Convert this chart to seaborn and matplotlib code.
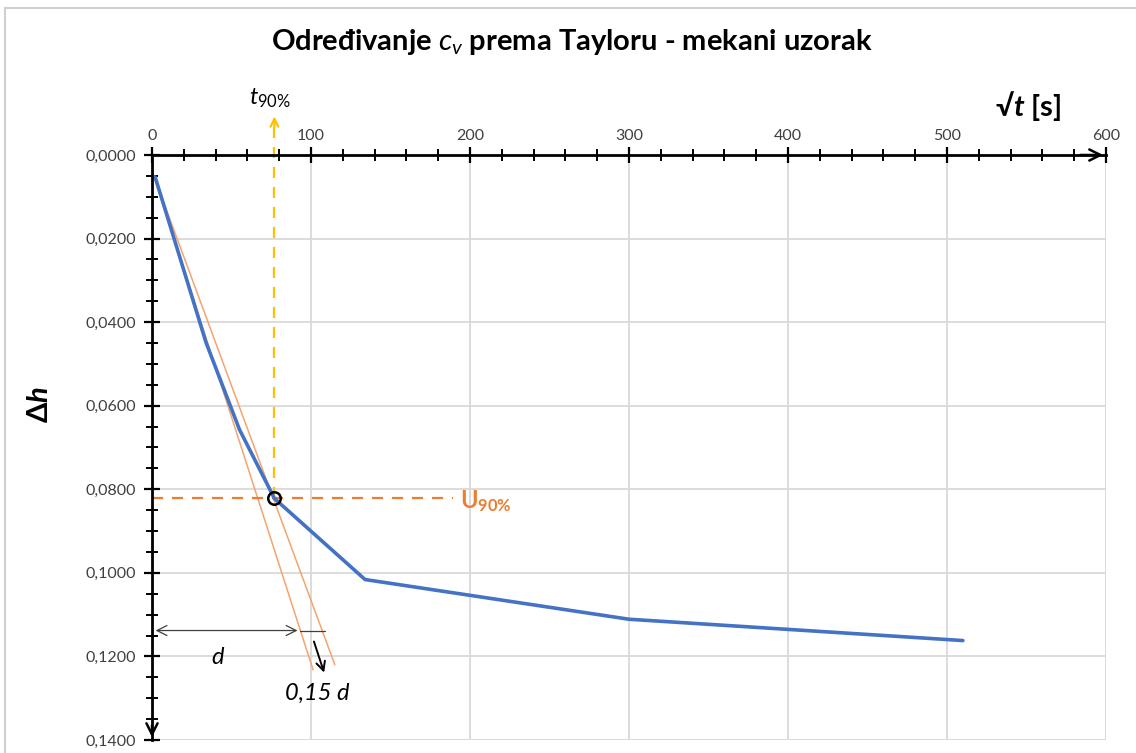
import numpy as np
import pandas as pd
import matplotlib
matplotlib.use("Agg")
import matplotlib.pyplot as plt
import seaborn as sns
from matplotlib.lines import Line2D
from matplotlib.ticker import MultipleLocator, FuncFormatter

# ---- data ----
sqrt_t = [2, 34, 55, 77, 134, 300, 510]
delta_h = [0.0053, 0.0449, 0.0657, 0.0822, 0.1016, 0.1111, 0.1162]

tangent_x = [0.5, 101.3]
tangent_y = [0.0043, 0.1232]
tangent115_x = [0.5, 115.0]
tangent115_y = [0.0043, 0.1220]

t90 = 77
u90 = 0.0822
d_level = 0.1138
d_end = 93.3
d_ext = 108.5

x_ticks = [0, 100, 200, 300, 400, 500, 600]
y_ticks = [0.0, 0.02, 0.04, 0.06, 0.08, 0.10, 0.12, 0.14]

title = "Određivanje $\\mathit{c_v}$ prema Tayloru - mekani uzorak"

# ---- style ----
sns.set_theme(style="white")
plt.rcParams['font.family'] = ['Lato', 'DejaVu Sans']
plt.rcParams['mathtext.fontset'] = 'custom'
plt.rcParams['mathtext.it'] = 'Lato:italic'
plt.rcParams['mathtext.rm'] = 'Lato'
plt.rcParams['mathtext.bf'] = 'Lato:bold'
plt.rcParams['mathtext.bfit'] = 'Lato:italic:bold'

W, H = 1136, 753
fig = plt.figure(figsize=(W / 100, H / 100), dpi=100)
ax = fig.add_axes([152 / W, 1 - 740 / H, (1106 - 152) / W, (740 - 155) / H])

df = pd.DataFrame({"x": sqrt_t, "y": delta_h})
sns.lineplot(data=df, x="x", y="y", sort=False, color="#4472C4", lw=2.6, ax=ax, zorder=4)

ax.plot(tangent_x, tangent_y, color="#F4A46E", lw=1.1, zorder=3)
ax.plot(tangent115_x, tangent115_y, color="#F4A46E", lw=1.1, zorder=3)

# U90 horizontal dashed
ax.plot([0, 189], [u90, u90], color="#ED7D31", lw=1.6, dashes=(5, 4), zorder=3)
# t90 vertical dashed with arrow
ax.plot([t90, t90], [u90, -0.0085], color="#FFC000", lw=1.6, dashes=(5, 4), zorder=3, clip_on=False)
ax.annotate("", xy=(t90, -0.0099), xytext=(t90, -0.0060), xycoords="data",
            arrowprops=dict(arrowstyle="->", color="#FFC000", lw=1.6, mutation_scale=14),
            annotation_clip=False)
ax.plot([t90], [u90], marker="o", ms=9, mfc="none", mec="black", mew=1.8, zorder=6)

# d dimension
ax.annotate("", xy=(0.5, d_level), xytext=(d_end, d_level),
            arrowprops=dict(arrowstyle="<->", color="#404040", lw=0.9, mutation_scale=18), zorder=5)
ax.plot([d_end, d_ext], [d_level, d_level], color="#404040", lw=0.9, zorder=5)
ax.annotate("", xy=(108.8, 0.1245), xytext=(101.3, 0.1158),
            arrowprops=dict(arrowstyle="->", color="black", lw=1.4, mutation_scale=16))
ax.text(41, 0.1203, "d", fontsize=17, style="italic", ha="center", va="center", color="black")
ax.text(104, 0.1288, "0,15 d", fontsize=17, style="italic", ha="center", va="center", color="black")

ax.text(194, u90 + 0.0006, "$\\mathbf{U}_{\\mathbf{90\\%}}$", fontsize=17, color="#ED7D31",
        ha="left", va="center")

ax.text(t90 - 3, -0.0137, "$t_{\\mathit{90\\%}}$", fontsize=17, ha="center", va="center", color="black")

# ---- axes ----
ax.set_xlim(0, 600)
ax.set_ylim(0.14, 0)
ax.xaxis.tick_top()
ax.set_xticks(x_ticks)
ax.set_yticks(y_ticks)
ax.xaxis.set_minor_locator(MultipleLocator(20))
ax.yaxis.set_minor_locator(MultipleLocator(0.005))
ax.yaxis.set_major_formatter(FuncFormatter(lambda v, p: f"{v:.4f}".replace(".", ",")))
ax.xaxis.set_major_formatter(FuncFormatter(lambda v, p: f"{int(round(v))}"))
ax.tick_params(axis="both", which="major", direction="inout", length=11, width=1.6,
               color="black", labelsize=11.5, labelcolor="#404040")
ax.tick_params(axis="y", which="major", pad=6)
ax.tick_params(axis="x", which="major", pad=3)
ax.tick_params(axis="both", which="minor", direction="inout", length=9, width=1.4, color="black")
ax.tick_params(axis="x", which="both", top=True, bottom=False)
ax.tick_params(axis="y", which="both", left=True, right=False)
ax.set_xlabel("")
ax.set_ylabel("")

ax.grid(True, which="major", color="#D9D9D9", lw=1.3)
ax.set_axisbelow(True)
for s in ["right", "bottom"]:
    ax.spines[s].set_visible(False)
for s in ["left", "top"]:
    ax.spines[s].set_color("black")
    ax.spines[s].set_linewidth(2.0)
    ax.spines[s].set_zorder(7)
ax.axvline(600, color="#D9D9D9", lw=1.3, zorder=0)
ax.axhline(0.14, color="#D9D9D9", lw=1.3, zorder=0)

# axis arrows
ax.annotate("", xy=(1.0, 1.0), xytext=(0.97, 1.0), xycoords="axes fraction",
            arrowprops=dict(arrowstyle="->", color="black", lw=1.8, mutation_scale=20), annotation_clip=False)
ax.annotate("", xy=(0.0, 0.0), xytext=(0.0, 0.03), xycoords="axes fraction",
            arrowprops=dict(arrowstyle="->", color="black", lw=1.8, mutation_scale=20), annotation_clip=False)

# labels
fig.text(572 / W, 1 - 42 / H, title, fontsize=21, fontweight="bold", ha="center", va="center", color="black")
fig.text(1028 / W, 1 - 106 / H, "√$\\mathbfit{t}$ [s]", fontsize=21, fontweight="bold",
         ha="center", va="center", color="black")
fig.text(40 / W, 1 - 405 / H, "Δ$\\mathbfit{h}$", fontsize=21, fontweight="bold", rotation=90,
         ha="center", va="center", color="black")

# outer chart border
fig.add_artist(Line2D([5 / W, 5 / W], [0, 1 - 8 / H], transform=fig.transFigure, color="#D0D0D0", lw=1.5))
fig.add_artist(Line2D([5 / W, 1], [1 - 8 / H, 1 - 8 / H], transform=fig.transFigure, color="#D0D0D0", lw=1.5))

fig.savefig("out.png", dpi=100)
